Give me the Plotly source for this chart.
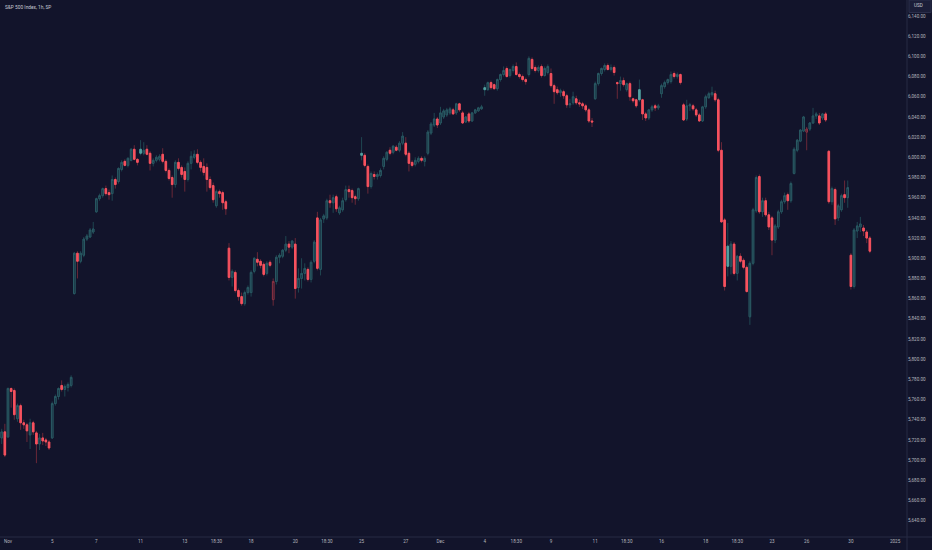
import plotly.graph_objects as go

# ---------------- trading sessions (hourly bars, NYSE hours) ----------------
nov_days = ["11-01", "11-04", "11-05", "11-06", "11-07", "11-08", "11-11", "11-12",
            "11-13", "11-14", "11-15", "11-18", "11-19", "11-20", "11-21", "11-22",
            "11-25", "11-26", "11-27", "11-29"]
dec_days = ["12-02", "12-03", "12-04", "12-05", "12-06", "12-09", "12-10", "12-11",
            "12-12", "12-13", "12-16", "12-17", "12-18", "12-19", "12-20", "12-23",
            "12-24", "12-26", "12-27", "12-30", "12-31", "01-02"]
half_days = ["11-29", "12-24"]

# ---------------- OHLC values (Oct 31 last 2 bars + November) ----------------
nov_open = [5722, 5728,
            5723, 5771, 5769, 5741, 5754, 5737, 5735,
            5725, 5737, 5727, 5716, 5722, 5720, 5718,
            5722, 5756, 5763, 5774, 5770, 5772, 5774,
            5865, 5905, 5897, 5903, 5919, 5921, 5926,
            5946, 5959, 5962, 5969, 5965, 5964, 5978,
            5976, 5988, 5996, 5992, 5997, 6008, 5998,
            6008, 6004, 6008, 6004, 5994, 5997, 5998,
            6003, 5996, 5987, 5980, 5973, 5995, 5990,
            5986, 5978, 5994, 6000, 6003, 5995, 5991,
            5990, 5978, 5972, 5952, 5966, 5965, 5956,
            5910, 5881, 5886, 5868, 5862, 5855, 5866,
            5866, 5887, 5899, 5897, 5894, 5885, 5896,
            5859, 5877, 5901, 5902, 5908, 5914, 5911,
            5914, 5871, 5880, 5885, 5889, 5879, 5897,
            5940, 5889, 5939, 5940, 5957, 5955, 5961,
            5945, 5948, 5958, 5968, 5967, 5961, 5959,
            6004, 6002, 5991, 5971, 5983, 5981, 5982,
            5991, 5998, 6007, 6005, 6010, 6007, 6014,
            6014, 6004, 5995, 5993, 5996, 5999, 5996,
            6004, 6024, 6032, 6038]
nov_high = [5731, 5736,
            5772, 5772, 5771, 5756, 5756, 5740, 5737,
            5741, 5739, 5729, 5726, 5727, 5722, 5720,
            5758, 5765, 5772, 5779, 5775, 5777, 5784,
            5906, 5907, 5907, 5921, 5924, 5930, 5936,
            5960, 5964, 5970, 5972, 5968, 5982, 5980,
            5990, 5997, 5998, 6000, 6009, 6012, 5999,
            6017, 6015, 6012, 6006, 5999, 6002, 6003,
            6009, 5998, 5989, 5982, 5997, 5999, 5992,
            5990, 5996, 6006, 6007, 6008, 5997, 5999,
            5994, 5981, 5975, 5968, 5968, 5967, 5958,
            5915, 5889, 5888, 5870, 5866, 5868, 5873,
            5888, 5901, 5906, 5899, 5896, 5897, 5898,
            5880, 5903, 5905, 5909, 5922, 5917, 5918,
            5920, 5890, 5900, 5895, 5891, 5898, 5918,
            5946, 5940, 5944, 5959, 5963, 5963, 5963,
            5952, 5960, 5972, 5972, 5969, 5963, 5970,
            6020, 6004, 5993, 5986, 5986, 5985, 5989,
            6001, 6006, 6010, 6012, 6012, 6016, 6025,
            6020, 6006, 5997, 6000, 6001, 6001, 6001,
            6027, 6035, 6044, 6040]
nov_low = [5716, 5703,
           5722, 5752, 5740, 5738, 5730, 5731, 5718,
           5711, 5725, 5697, 5710, 5715, 5714, 5710,
           5721, 5754, 5760, 5768, 5763, 5768, 5772,
           5864, 5880, 5895, 5901, 5917, 5920, 5924,
           5945, 5957, 5960, 5962, 5958, 5957, 5969,
           5974, 5986, 5991, 5990, 5996, 5997, 5992,
           6002, 6002, 6002, 5987, 5991, 5995, 5996,
           5994, 5985, 5977, 5960, 5970, 5987, 5980,
           5966, 5976, 5988, 5998, 5993, 5986, 5982,
           5966, 5968, 5955, 5950, 5960, 5948, 5943,
           5878, 5872, 5866, 5858, 5853, 5853, 5864,
           5862, 5885, 5892, 5890, 5882, 5883, 5891,
           5853, 5874, 5895, 5900, 5906, 5905, 5909,
           5860, 5866, 5870, 5878, 5877, 5876, 5895,
           5888, 5883, 5935, 5938, 5950, 5945, 5946,
           5943, 5946, 5956, 5960, 5955, 5953, 5957,
           5997, 5990, 5964, 5969, 5978, 5978, 5980,
           5988, 5996, 6002, 6003, 6006, 6005, 6012,
           6001, 5986, 5990, 5991, 5994, 5995, 5991,
           6002, 6022, 6030, 6029]
nov_close = [5728, 5705,
             5771, 5768, 5745, 5754, 5737, 5735, 5729,
             5737, 5728, 5716, 5722, 5719, 5718, 5712,
             5756, 5763, 5771, 5770, 5773, 5775, 5782,
             5905, 5897, 5905, 5919, 5922, 5928, 5929,
             5959, 5962, 5969, 5964, 5963, 5978, 5973,
             5989, 5995, 5992, 5999, 6008, 5998, 5995,
             6004, 6007, 6003, 5994, 5997, 6000, 6001,
             5996, 5987, 5979, 5973, 5995, 5989, 5983,
             5978, 5994, 6001, 6003, 5995, 5990, 5985,
             5978, 5970, 5958, 5966, 5964, 5955, 5949,
             5881, 5887, 5868, 5862, 5855, 5866, 5871,
             5886, 5900, 5896, 5893, 5884, 5895, 5893,
             5877, 5901, 5903, 5908, 5914, 5911, 5917,
             5870, 5880, 5885, 5890, 5879, 5896, 5916,
             5890, 5938, 5942, 5957, 5955, 5960, 5949,
             5950, 5957, 5968, 5966, 5960, 5959, 5969,
             6002, 5992, 5971, 5984, 5981, 5983, 5987,
             5999, 6005, 6004, 6011, 6007, 6014, 6021,
             6003, 5994, 5992, 5997, 5999, 5997, 5999,
             6025, 6033, 6038, 6032]

# ---------------- OHLC values (December) ----------------
dec_open = [6034, 6040, 6042, 6044, 6047, 6044, 6053,
            6044, 6035, 6043, 6036, 6044, 6046, 6048,
            6069, 6067, 6074, 6072, 6068, 6077, 6082,
            6088, 6081, 6086, 6090, 6082, 6080, 6077,
            6082, 6097, 6089, 6086, 6090, 6081, 6084,
            6083, 6071, 6067, 6064, 6065, 6061, 6052,
            6054, 6058, 6054, 6053, 6051, 6047, 6036,
            6058, 6073, 6083, 6087, 6091, 6087, 6089,
            6074, 6073, 6076, 6067, 6073, 6058, 6057,
            6067, 6057, 6043, 6039, 6047, 6051, 6049,
            6063, 6070, 6074, 6075, 6083, 6080, 6082,
            6052, 6038, 6051, 6051, 6047, 6042, 6036,
            6050, 6059, 6062, 6063, 6057, 6007, 5938,
            5912, 5892, 5914, 5885, 5902, 5898, 5891,
            5842, 5895, 5947, 5981, 5946, 5957, 5943,
            5940, 5918, 5931, 5946, 5956, 5963, 5957,
            5984, 6007, 6016, 6026,
            6025, 6028, 6034, 6041, 6041, 6039, 6043,
            6006, 5956, 5968, 5940, 5948, 5963, 5960,
            5903, 5872, 5927, 5931, 5930, 5926, 5920]
dec_high = [6050, 6048, 6049, 6050, 6049, 6054, 6054,
            6046, 6041, 6045, 6045, 6048, 6050, 6052,
            6072, 6075, 6076, 6073, 6078, 6083, 6090,
            6090, 6088, 6092, 6094, 6084, 6082, 6079,
            6100, 6099, 6091, 6091, 6092, 6090, 6092,
            6088, 6073, 6070, 6068, 6067, 6063, 6058,
            6065, 6061, 6057, 6055, 6053, 6049, 6039,
            6075, 6084, 6089, 6093, 6093, 6092, 6091,
            6075, 6080, 6079, 6074, 6075, 6059, 6058,
            6077, 6058, 6045, 6048, 6052, 6053, 6053,
            6073, 6076, 6078, 6085, 6085, 6084, 6083,
            6054, 6057, 6054, 6053, 6049, 6044, 6051,
            6062, 6065, 6070, 6066, 6059, 6015, 5940,
            5935, 5917, 5916, 5903, 5905, 5900, 5893,
            5897, 5950, 5982, 5983, 5960, 5960, 5946,
            5942, 5934, 5948, 5958, 5965, 5965, 5976,
            6010, 6018, 6028, 6041,
            6030, 6035, 6049, 6045, 6044, 6044, 6045,
            6007, 5971, 5970, 5954, 5964, 5977, 5977,
            5905, 5930, 5936, 5941, 5933, 5928, 5922]
dec_low = [6032, 6038, 6040, 6042, 6042, 6042, 6045,
           6033, 6034, 6034, 6035, 6043, 6045, 6047,
           6061, 6066, 6067, 6067, 6066, 6075, 6080,
           6079, 6079, 6084, 6081, 6078, 6075, 6072,
           6080, 6086, 6084, 6084, 6079, 6080, 6082,
           6069, 6053, 6062, 6060, 6058, 6049, 6049,
           6052, 6052, 6050, 6048, 6045, 6034, 6030,
           6057, 6071, 6081, 6085, 6086, 6085, 6081,
           6058, 6066, 6070, 6065, 6056, 6054, 6049,
           6055, 6037, 6036, 6037, 6045, 6046, 6047,
           6059, 6068, 6072, 6073, 6078, 6078, 6072,
           6036, 6036, 6046, 6046, 6040, 6035, 6035,
           6048, 6058, 6060, 6055, 6005, 5935, 5868,
           5882, 5884, 5883, 5878, 5895, 5889, 5866,
           5834, 5893, 5945, 5944, 5941, 5941, 5928,
           5903, 5915, 5929, 5944, 5954, 5948, 5955,
           5983, 6005, 6015, 6025,
           6007, 6026, 6033, 6038, 6032, 6037, 6035,
           5954, 5953, 5933, 5937, 5946, 5955, 5950,
           5869, 5870, 5920, 5926, 5922, 5915, 5905]
dec_close = [6044, 6046, 6047, 6048, 6043, 6053, 6047,
             6034, 6040, 6036, 6044, 6047, 6049, 6050,
             6067, 6074, 6069, 6068, 6077, 6082, 6086,
             6080, 6087, 6090, 6082, 6080, 6077, 6075,
             6098, 6088, 6086, 6089, 6081, 6088, 6090,
             6071, 6065, 6064, 6066, 6061, 6052, 6053,
             6060, 6054, 6053, 6051, 6047, 6036, 6035,
             6073, 6083, 6088, 6091, 6087, 6089, 6084,
             6073, 6076, 6072, 6073, 6060, 6056, 6051,
             6057, 6043, 6039, 6047, 6050, 6049, 6051,
             6071, 6074, 6077, 6082, 6080, 6082, 6074,
             6037, 6051, 6052, 6048, 6042, 6036, 6050,
             6060, 6063, 6064, 6057, 6007, 5936, 5872,
             5892, 5914, 5885, 5902, 5897, 5891, 5867,
             5895, 5948, 5980, 5946, 5957, 5943, 5931,
             5918, 5932, 5946, 5956, 5962, 5957, 5974,
             6008, 6017, 6027, 6040,
             6028, 6034, 6041, 6043, 6034, 6043, 6037,
             5956, 5969, 5939, 5952, 5962, 5960, 5970,
             5872, 5928, 5932, 5934, 5927, 5920, 5907]

# ---------------- time-axis labels: (session, bar within session, text) -------
tick_marks = [("11-01", 0, "Nov"), ("11-05", 0, "5"), ("11-07", 0, "7"),
              ("11-11", 0, "11"), ("11-13", 0, "13"), ("11-14", 3, "18:30"),
              ("11-18", 0, "18"), ("11-20", 0, "20"), ("11-21", 3, "18:30"),
              ("11-25", 0, "25"), ("11-27", 0, "27"), ("12-02", 0, "Dec"),
              ("12-04", 0, "4"), ("12-05", 3, "18:30"), ("12-09", 0, "9"),
              ("12-11", 0, "11"), ("12-12", 3, "18:30"), ("12-16", 0, "16"),
              ("12-18", 0, "18"), ("12-19", 3, "18:30"), ("12-23", 0, "23"),
              ("12-26", 0, "26"), ("12-30", 0, "30"), ("01-02", 0, "2025")]

title_text = "S&P 500 Index, 1h, SP"
currency = "USD"

# ---------------- build bar index axis ----------------
session_start = {}
pos = 0
for d in nov_days + dec_days:
    session_start[d] = pos
    pos += 4 if d in half_days else 7

opens = nov_open + dec_open
highs = nov_high + dec_high
lows = nov_low + dec_low
closes = nov_close + dec_close
xs = list(range(-2, -2 + len(opens)))

tickvals = [session_start[d] + k for d, k, _ in tick_marks]
ticktext = [t for _, _, t in tick_marks]

# ---------------- colours ----------------
BG = "#12142b"
TEAL_WICK = "#1f4651"
TEAL_LINE = "#2a5a64"
TEAL_FILL = "#15283a"
TEAL_SOLID = "#52a0a0"
RED = "#f7525f"
RED_WICK = "#6a2838"
RED_HOLLOW = "#8a3243"
TEXT = "#b2b5be"

groups = {k: dict(x=[], o=[], h=[], l=[], c=[]) for k in
          ("up_hollow", "up_solid", "dn_solid", "dn_hollow")}
wicks = {k: dict(x=[], o=[], h=[], l=[], c=[]) for k in ("up", "dn")}
for i, x in enumerate(xs):
    o, h, l, c = opens[i], highs[i], lows[i], closes[i]
    pc = closes[i - 1] if i > 0 else o
    up = c >= pc
    hollow = c >= o
    key = ("up_" if up else "dn_") + ("hollow" if hollow else "solid")
    w = wicks["up" if up else "dn"]
    for kk, v in zip("xohlc", (x, o, h, l, c)):
        w[kk].append(v)
    g = groups[key]
    for kk, v in zip("xohlc", (x, o, max(o, c), min(o, c), c)):
        g[kk].append(v)

fig = go.Figure()


def add_candles(d, line_col, fill_col, lw):
    fig.add_trace(go.Candlestick(
        x=d["x"], open=d["o"], high=d["h"], low=d["l"], close=d["c"],
        increasing=dict(line=dict(color=line_col, width=lw), fillcolor=fill_col),
        decreasing=dict(line=dict(color=line_col, width=lw), fillcolor=fill_col),
        showlegend=False, hoverinfo="skip"))


add_candles(wicks["up"], TEAL_WICK, TEAL_WICK, 1)
add_candles(wicks["dn"], RED_WICK, RED_WICK, 1)
add_candles(groups["up_hollow"], TEAL_LINE, TEAL_FILL, 1)
add_candles(groups["up_solid"], TEAL_SOLID, TEAL_SOLID, 1)
add_candles(groups["dn_solid"], RED, RED, 1)
add_candles(groups["dn_hollow"], RED_HOLLOW, BG, 1)

W, H = 932, 550
ML, MR, MT, MB = 0, 25, 0, 13
pw = W - ML - MR
ph = H - MT - MB

fig.update_layout(
    width=W, height=H,
    margin=dict(l=ML, r=MR, t=MT, b=MB, pad=0),
    paper_bgcolor=BG, plot_bgcolor=BG,
    font=dict(family="Roboto, sans-serif", color=TEXT, size=5),
    boxgap=0.3, boxgroupgap=0.3,
    hovermode=False,
    xaxis=dict(range=[-2.534, 284.77], tickvals=tickvals, ticktext=ticktext,
               showgrid=False, zeroline=False, ticks="", showline=False,
               rangeslider=dict(visible=False), tickfont=dict(size=4.6, color=TEXT),
               fixedrange=True),
    yaxis=dict(side="right", range=[5623.85, 6155.85], tick0=0, dtick=20,
               tickformat=",.2f", showgrid=False, zeroline=False, ticks="",
               showline=False, tickfont=dict(size=4.6, color=TEXT), fixedrange=True),
    shapes=[
        dict(type="line", xref="paper", yref="paper", x0=1, x1=1, y0=-MB / ph,
             y1=1, line=dict(color="#262a45", width=1)),
        dict(type="line", xref="paper", yref="paper", x0=0, x1=W / pw, y0=0, y1=0,
             line=dict(color="#262a45", width=1)),
        dict(type="rect", xref="paper", yref="paper", x0=(909 - ML) / pw, x1=(931 - ML) / pw,
             y0=1 - 12.5 / ph, y1=1, fillcolor="#1b1e38",
             line=dict(color="#2a2e4a", width=1), layer="above"),
    ],
    annotations=[
        dict(text=title_text, xref="paper", yref="paper", x=3 / pw, y=1 - 7 / ph,
             xanchor="left", yanchor="middle", showarrow=False,
             font=dict(size=4.8, color="#c8cbd4")),
        dict(text=currency, xref="paper", yref="paper", x=(911.5 - ML) / pw,
             y=1 - 6 / ph, xanchor="left", yanchor="middle", showarrow=False,
             font=dict(size=4.6, color="#c8cbd4")),
    ],
)

fig.write_html("out.html", config={"displayModeBar": False, "staticPlot": True},
               post_script="document.body.style.margin='0';"
               "document.body.style.background='" + BG + "';")
